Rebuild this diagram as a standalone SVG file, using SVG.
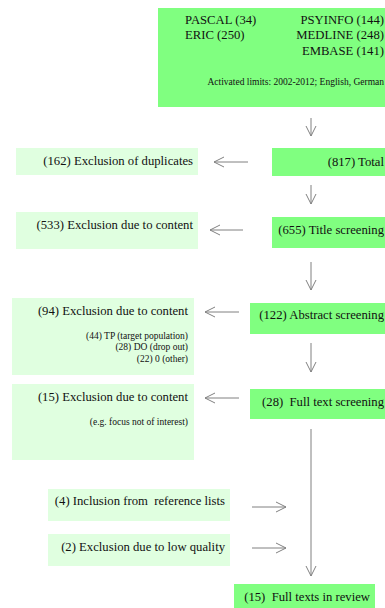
<svg xmlns="http://www.w3.org/2000/svg" width="385" height="608" viewBox="0 0 385 608">
  <style>
    .main { fill: #80ff80; }
    .side { fill: #e0ffe0; }
    text { font-family: "Liberation Serif", "Times New Roman", serif; fill: #111111; white-space: pre; }
    .t { font-size: 12.7px; }
    .s { font-size: 9.5px; }
    .r { text-anchor: end; }
    .link { stroke: #808080; stroke-width: 1; fill: none; marker-end: url(#head); }
  </style>
  <defs>
    <marker id="head" markerUnits="userSpaceOnUse" markerWidth="12" markerHeight="12" refX="10" refY="6" orient="auto">
      <path d="M0,1 L10,6 L0,11" fill="none" stroke="#808080" stroke-width="1"/>
    </marker>
  </defs>

  <!-- database sources -->
  <g id="sources">
    <rect class="main" x="158" y="8" width="227" height="99"/>
    <text class="t" x="185" y="24">PASCAL (34)</text>
    <text class="t" x="185" y="39">ERIC (250)</text>
    <text class="t r" x="384" y="24">PSYINFO (144)</text>
    <text class="t r" x="384" y="39">MEDLINE (248)</text>
    <text class="t r" x="384" y="55">EMBASE (141)</text>
    <text class="s r" x="384" y="85">Activated limits: 2002-2012; English, German</text>
  </g>

  <g id="total">
    <rect class="main" x="272" y="148" width="113" height="28"/>
    <text class="t r" x="384" y="166">(817) Total</text>
  </g>
  <g id="duplicates">
    <rect class="side" x="16" y="148" width="182" height="27"/>
    <text class="t r" x="193" y="165">(162) Exclusion of duplicates</text>
  </g>

  <g id="title-screening">
    <rect class="main" x="272" y="217" width="113" height="31"/>
    <text class="t r" x="384" y="234">(655) Title screening</text>
  </g>
  <g id="title-exclusion">
    <rect class="side" x="16" y="212" width="182" height="37"/>
    <text class="t r" x="193" y="229">(533) Exclusion due to content</text>
  </g>

  <g id="abstract-screening">
    <rect class="main" x="250" y="303" width="135" height="31"/>
    <text class="t r" x="384" y="319">(122) Abstract screening</text>
  </g>
  <g id="abstract-exclusion">
    <rect class="side" x="12" y="298" width="182" height="77"/>
    <text class="t r" x="188" y="315">(94) Exclusion due to content</text>
    <text class="s r" x="188" y="339">(44) TP (target population)</text>
    <text class="s r" x="188" y="350">(28) DO (drop out)</text>
    <text class="s r" x="188" y="362">(22) 0 (other)</text>
  </g>

  <g id="fulltext-screening">
    <rect class="main" x="250" y="389" width="135" height="30"/>
    <text class="t r" x="384" y="406">(28)  Full text screening</text>
  </g>
  <g id="fulltext-exclusion">
    <rect class="side" x="12" y="384" width="182" height="76"/>
    <text class="t r" x="188" y="401">(15) Exclusion due to content</text>
    <text class="s r" x="188" y="425">(e.g. focus not of interest)</text>
  </g>

  <g id="reference-lists">
    <rect class="side" x="48" y="489" width="182" height="32"/>
    <text class="t r" x="225" y="505">(4) Inclusion from  reference lists</text>
  </g>
  <g id="low-quality">
    <rect class="side" x="48" y="534" width="182" height="32"/>
    <text class="t r" x="225" y="551">(2) Exclusion due to low quality</text>
  </g>

  <g id="in-review">
    <rect class="main" x="234" y="584" width="141" height="24"/>
    <text class="t r" x="370" y="601">(15)  Full texts in review</text>
  </g>

  <!-- connectors -->
  <g id="connectors">
    <line class="link" x1="311" y1="118" x2="311" y2="136"/>
    <line class="link" x1="248" y1="162" x2="214" y2="162"/>
    <line class="link" x1="311" y1="185" x2="311" y2="204"/>
    <line class="link" x1="243" y1="230" x2="210" y2="230"/>
    <line class="link" x1="311" y1="262" x2="311" y2="290"/>
    <line class="link" x1="239" y1="312" x2="205" y2="312"/>
    <line class="link" x1="311" y1="343" x2="311" y2="372"/>
    <line class="link" x1="239" y1="398" x2="205" y2="398"/>
    <line class="link" x1="311" y1="429" x2="311" y2="576"/>
    <line class="link" x1="252" y1="507" x2="286" y2="507"/>
    <line class="link" x1="252" y1="548" x2="286" y2="548"/>
  </g>
</svg>
